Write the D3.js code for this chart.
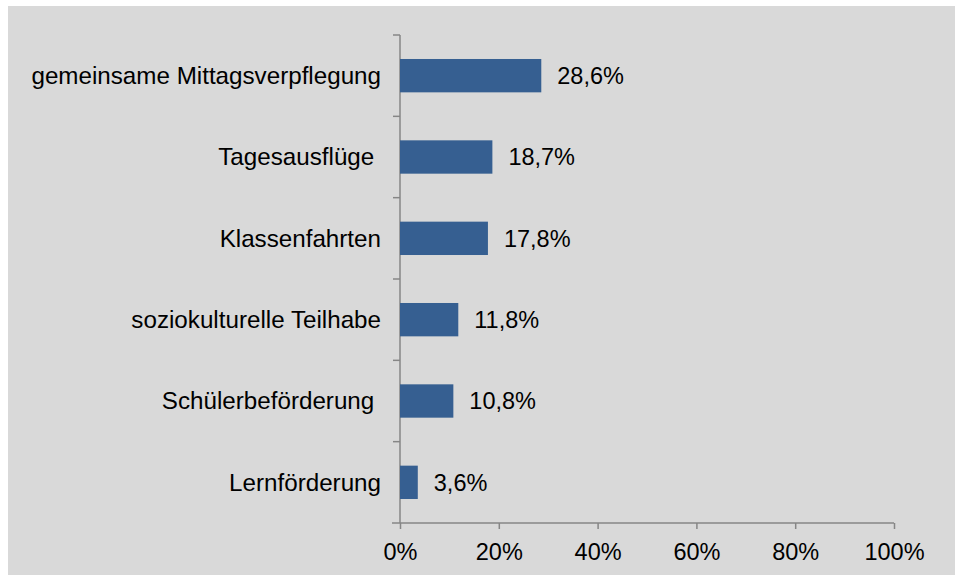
<!DOCTYPE html>
<html>
<head>
<meta charset="utf-8">
<script src="https://cdn.jsdelivr.net/npm/d3@7"></script>
<style>
  body { margin: 0; background: #fff; }
  svg text { font-family: "Liberation Sans", Arial, sans-serif; fill: #000; white-space: pre; }
</style>
</head>
<body>
<svg id="chart" width="955" height="575"></svg>
<script>
var categories = [
  "gemeinsame Mittagsverpflegung",
  "Tagesausflüge ",
  "Klassenfahrten",
  "soziokulturelle Teilhabe",
  "Schülerbeförderung ",
  "Lernförderung"
]
var values = [28.6, 18.7, 17.8, 11.8, 10.8, 3.6]
var valueLabels = ["28,6%", "18,7%", "17,8%", "11,8%", "10,8%", "3,6%"]
var xTicks = [0, 20, 40, 60, 80, 100]

var svg = d3.select("#chart")

svg.append("rect")
  .attr("x", 8)
  .attr("y", 6)
  .attr("width", 947)
  .attr("height", 569)
  .style("fill", "#d9d9d9")

var x = d3.scaleLinear().domain([0, 100]).range([400, 894])
var y = d3.scaleBand().domain(categories).range([35, 523]).paddingInner(0.59).paddingOuter(0.295)

var axisColour = "#868686"
var fontSize = "23.5px"

// y axis line and category ticks
var yBand = d3.scaleBand().domain(categories).range([35, 523])
svg.append("line")
  .attr("x1", 400).attr("x2", 400)
  .attr("y1", 35).attr("y2", 523)
  .style("stroke", axisColour).style("stroke-width", 1.5)

svg.selectAll(".ytick")
  .data(categories)
  .enter()
  .append("line")
    .attr("x1", 393).attr("x2", 400)
    .attr("y1", d => yBand(d)).attr("y2", d => yBand(d))
    .style("stroke", axisColour).style("stroke-width", 1.5)

// x axis
var xAxis = svg.append("g")
  .attr("transform", "translate(0,523)")
  .call(d3.axisBottom(x).tickValues(xTicks).tickSize(6).tickSizeOuter(0).tickFormat(d => d + "%"))

xAxis.select(".domain").remove()
xAxis.append("line")
  .attr("x1", 392).attr("x2", 894)
  .style("stroke", axisColour).style("stroke-width", 1.5)
xAxis.selectAll(".tick line").style("stroke", axisColour).style("stroke-width", 1.5)
xAxis.selectAll(".tick text")
  .attr("y", 20)
  .attr("dy", "0.71em")
  .style("font-size", fontSize)
  .style("font-family", "'Liberation Sans', Arial, sans-serif")
  .style("fill", "#000")

// bars
svg.selectAll(".bar")
  .data(values)
  .enter()
  .append("rect")
    .attr("class", "bar")
    .attr("x", x(0))
    .attr("y", (d, i) => y(categories[i]))
    .attr("width", d => x(d) - x(0))
    .attr("height", y.bandwidth())
    .style("fill", "#365f91")

// value labels
svg.selectAll(".val")
  .data(values)
  .enter()
  .append("text")
    .attr("x", d => x(d) + 16)
    .attr("y", (d, i) => y(categories[i]) + y.bandwidth() / 2)
    .attr("dy", "0.35em")
    .style("font-size", fontSize)
    .text((d, i) => valueLabels[i])

// category labels
svg.selectAll(".cat")
  .data(categories)
  .enter()
  .append("text")
    .attr("x", 381)
    .attr("y", d => y(d) + y.bandwidth() / 2)
    .attr("dy", "0.35em")
    .attr("text-anchor", "end")
    .style("font-size", "24.2px")
    .text(d => d)
</script>
</body>
</html>
